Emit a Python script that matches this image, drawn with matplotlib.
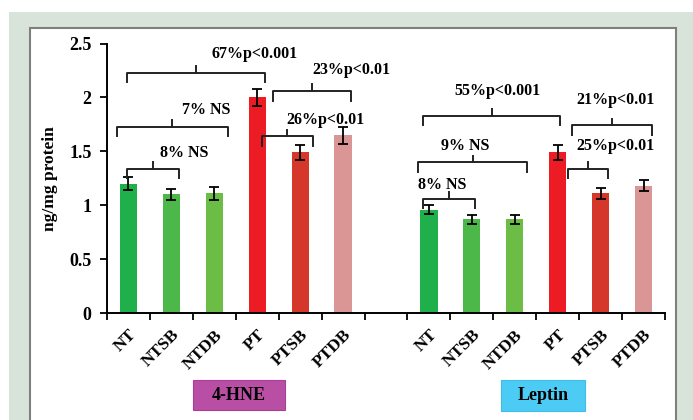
import numpy as np
import matplotlib.pyplot as plt
from matplotlib.patches import Rectangle

# bar data: 4-HNE group, empty slot, Leptin group
groups = ["NT", "NTSB", "NTDB", "PT", "PTSB", "PTDB"]
hne_vals = [1.20, 1.10, 1.11, 2.00, 1.49, 1.65]
hne_err = [0.06, 0.05, 0.06, 0.08, 0.07, 0.08]
leptin_vals = [0.96, 0.87, 0.87, 1.49, 1.11, 1.18]
leptin_err = [0.04, 0.04, 0.04, 0.07, 0.05, 0.05]
bar_colors = ["#1fb04c", "#4cb84a", "#6cbd45", "#ed1c24", "#d5382b", "#d99694"]

# comparison brackets: (x start, x end, height, label, label x, label y)
brackets = [
    (-0.03, 1.18, 1.34, "8% NS", 1.29, 1.48),
    (-0.27, 2.32, 1.73, "7% NS", 1.81, 1.88),
    (-0.03, 3.18, 2.23, "67%p<0.001", 2.95, 2.40),
    (3.11, 4.30, 1.64, "26%p<0.01", 4.58, 1.79),
    (3.37, 5.19, 2.06, "23%p<0.01", 5.19, 2.25),
    (6.87, 10.06, 1.83, "55%p<0.001", 8.59, 2.06),
    (10.34, 12.20, 1.74, "21%p<0.01", 11.34, 1.98),
    (6.75, 9.29, 1.40, "9% NS", 7.84, 1.55),
    (10.25, 11.18, 1.34, "25%p<0.01", 11.34, 1.55),
    (6.87, 8.08, 1.06, "8% NS", 7.31, 1.19),
]

serif = "Liberation Serif"

fig = plt.figure(figsize=(6.93, 4.2), dpi=100)
W, H = 693, 420

def px_rect(x0, y0, x1, y1, **kw):
    fig.patches.append(Rectangle((x0 / W, 1 - y1 / H), (x1 - x0) / W, (y1 - y0) / H,
                                 transform=fig.transFigure, figure=fig, **kw))

# page background and white chart panel
px_rect(9, 12, 693, 420, facecolor="#d8e4da", edgecolor="none", zorder=-3)
px_rect(30, 28, 676, 425, facecolor="white", edgecolor="#7f7f7f", linewidth=1.5, zorder=-2)

ax = fig.add_axes([107 / W, 1 - 313 / H, (665 - 107) / W, (313 - 43.5) / H])
ax.set_facecolor("none")

x_hne = np.arange(6)
x_lep = np.arange(7, 13)
ekw = dict(ecolor="black", elinewidth=1.3, capsize=3.8, capthick=1.3)
ax.bar(x_hne, hne_vals, width=0.4, color=bar_colors, yerr=hne_err, error_kw=ekw, zorder=2)
ax.bar(x_lep, leptin_vals, width=0.4, color=bar_colors, yerr=leptin_err, error_kw=ekw, zorder=2)

ax.set_xlim(-0.5, 12.5)
ax.set_ylim(0, 2.5)
ax.set_yticks([0, 0.5, 1, 1.5, 2, 2.5])
ax.set_yticklabels(["0", "0.5", "1", "1.5", "2", "2.5"], fontfamily=serif,
                   fontweight="bold", fontsize=13)
ax.set_xticks(np.arange(-0.5, 13, 1), minor=False)
ax.set_xticklabels([])
ax.set_xticks(list(x_hne) + list(x_lep), minor=True)
ax.set_xticklabels(groups + groups, minor=True, rotation=45, ha="right",
                   rotation_mode="anchor", fontfamily=serif, fontweight="bold", fontsize=12.5)
ax.tick_params(axis="x", which="minor", length=0, pad=10)
ax.tick_params(axis="x", which="major", direction="out", length=5, width=1.3)
ax.tick_params(axis="y", direction="out", length=5, width=1.3, pad=6)
for s in ["top", "right"]:
    ax.spines[s].set_visible(False)
for s in ["left", "bottom"]:
    ax.spines[s].set_linewidth(1.4)

ax.set_ylabel("ng/mg protein", fontfamily=serif, fontweight="bold", fontsize=12.5, labelpad=8)

# bracket shape: hanging ends with a small nub pointing up in the middle
drop, nub = 0.09, 0.06
for x0, x1, y, label, tx, ty in brackets:
    xm = (x0 + x1) / 2
    ax.plot([x0, x0, x1, x1], [y - drop, y, y, y - drop], color="#222222", lw=1.4,
            solid_joinstyle="round", zorder=3)
    ax.plot([xm, xm], [y, y + nub], color="#222222", lw=1.4, zorder=3)
    ax.text(tx, ty, label, ha="center", va="center", fontfamily=serif,
            fontweight="bold", fontsize=11.5, zorder=4)

# group name boxes under the axis
px_rect(193, 380, 285, 410, facecolor="#b94fa4", edgecolor="#a8409a", linewidth=0.8)
px_rect(501, 380, 585, 411, facecolor="#4cccf4", edgecolor="#3fbde8", linewidth=0.8)
fig.text(239 / W, 1 - 396 / H, "4-HNE", ha="center", va="center", fontfamily=serif,
         fontweight="bold", fontsize=13)
fig.text(543 / W, 1 - 396 / H, "Leptin", ha="center", va="center", fontfamily=serif,
         fontweight="bold", fontsize=13)

fig.savefig("out.png", dpi=100)
